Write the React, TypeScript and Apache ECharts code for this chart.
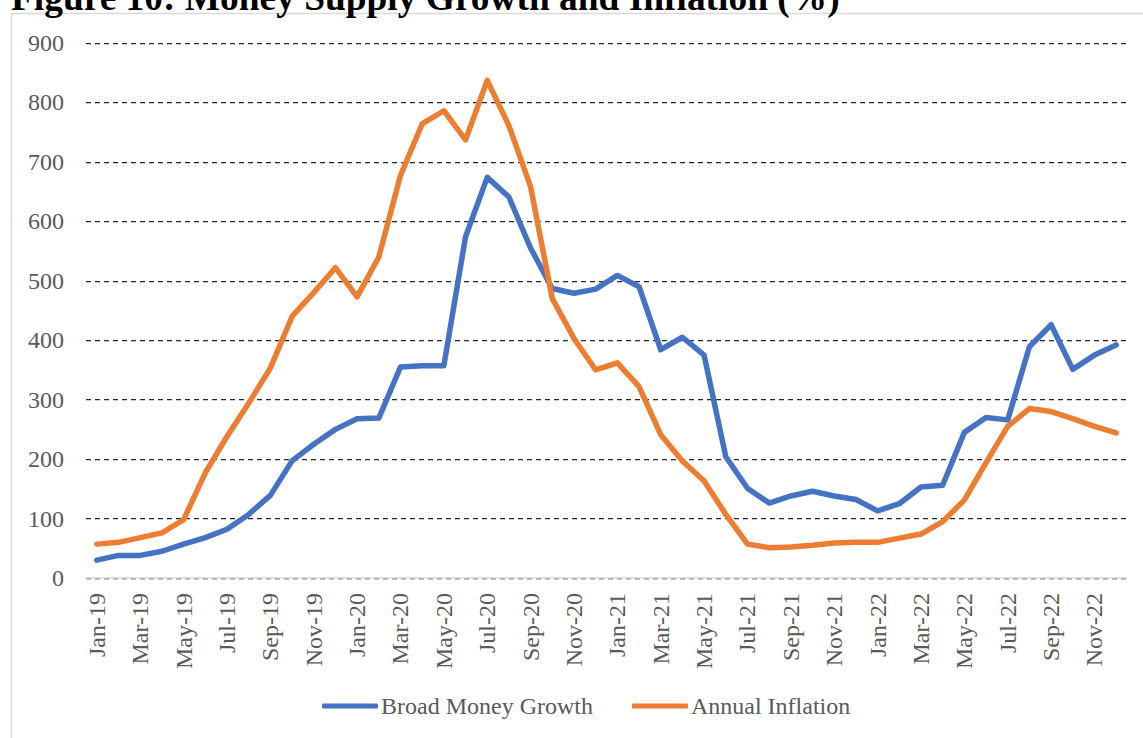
import React, { useEffect, useRef } from "react";
import * as echarts from "echarts";

// Monthly categories, Jan-19 .. Dec-22
const MONTHS = ["Jan", "Feb", "Mar", "Apr", "May", "Jun", "Jul", "Aug", "Sep", "Oct", "Nov", "Dec"];
const YEARS = ["19", "20", "21", "22"];
const categories: string[] = YEARS.flatMap((y) => MONTHS.map((m) => `${m}-${y}`));

// Broad money growth (%)
const broadMoneyGrowth = [
  30, 38, 38, 45, 57, 68, 82, 107, 139, 197, 225, 250,
  268, 269, 355, 357, 357, 574, 674, 641, 555, 487, 479, 486,
  509, 490, 384, 405, 375, 204, 151, 126, 138, 146, 138, 132,
  113, 125, 153, 156, 245, 270, 266, 389, 426, 351, 375, 392,
];

// Annual inflation (%)
const annualInflation = [
  57, 60, 68, 76, 98, 177, 238, 294, 353, 440, 480, 522,
  473, 540, 677, 764, 786, 737, 837, 761, 658, 470, 403, 350,
  362, 322, 241, 197, 163, 107, 57, 51, 52, 55, 59, 60,
  60, 67, 74, 95, 131, 194, 255, 285, 280, 268, 255, 244,
];

const yTicks = { min: 0, max: 900, interval: 100 };

const TITLE = "Figure 10: Money Supply Growth and Inflation (%)";
const SERIF = "'Liberation Serif', 'Times New Roman', serif";

export default function App() {
  const ref = useRef<HTMLDivElement>(null);

  useEffect(() => {
    if (!ref.current) return;
    const chart = echarts.init(ref.current, undefined, { renderer: "svg" });
    chart.setOption({
      animation: false,
      backgroundColor: "#ffffff",
      textStyle: { fontFamily: SERIF },
      graphic: [
        {
          type: "rect",
          shape: { x: 11.5, y: 13.5, width: 1143, height: 740 },
          style: { fill: "none", stroke: "#d9d9d9", lineWidth: 1.5 },
          silent: true,
          z: -1,
        },
        {
          type: "text",
          x: 11,
          y: -3,
          style: {
            text: TITLE,
            font: `bold 37.4px ${SERIF}`,
            fill: "#000000",
            verticalAlign: "middle",
            align: "left",
          },
        },
      ],
      grid: { left: 86, right: 16, top: 43, bottom: 160, containLabel: false },
      legend: {
        left: 322,
        top: 694,
        padding: 0,
        icon: "roundRect",
        itemWidth: 56,
        itemHeight: 5,
        itemGap: 39,
        textStyle: { fontFamily: SERIF, fontSize: 24, color: "#595959", padding: [0, 0, 0, -2] },
        data: ["Broad Money Growth", "Annual Inflation"],
      },
      xAxis: {
        type: "category",
        data: categories,
        boundaryGap: true,
        axisLine: { lineStyle: { color: "#d9d9d9", width: 1.5 } },
        axisTick: { interval: 1, length: 6, lineStyle: { color: "#d9d9d9", width: 1.5 } },
        axisLabel: {
          interval: 1,
          rotate: 90,
          margin: 15,
          fontFamily: SERIF,
          fontSize: 24,
          color: "#595959",
        },
        splitLine: { show: false },
      },
      yAxis: {
        type: "value",
        min: yTicks.min,
        max: yTicks.max,
        interval: yTicks.interval,
        axisLine: { show: false },
        axisTick: { show: false },
        axisLabel: { margin: 22, fontFamily: SERIF, fontSize: 24, color: "#595959" },
        splitLine: { lineStyle: { color: "#262626", width: 1.25, type: [5, 4] } },
      },
      series: [
        {
          name: "Broad Money Growth",
          type: "line",
          data: broadMoneyGrowth,
          showSymbol: false,
          symbol: "none",
          itemStyle: { color: "#4472C4" },
          lineStyle: { color: "#4472C4", width: 5.5, cap: "round", join: "round" },
        },
        {
          name: "Annual Inflation",
          type: "line",
          data: annualInflation,
          showSymbol: false,
          symbol: "none",
          itemStyle: { color: "#ED7D31" },
          lineStyle: { color: "#ED7D31", width: 5.5, cap: "round", join: "round" },
        },
      ],
    });
    return () => chart.dispose();
  }, []);

  return (
    <div
      ref={ref}
      style={{ position: "fixed", left: 0, top: 0, width: 1143, height: 738 }}
    />
  );
}
